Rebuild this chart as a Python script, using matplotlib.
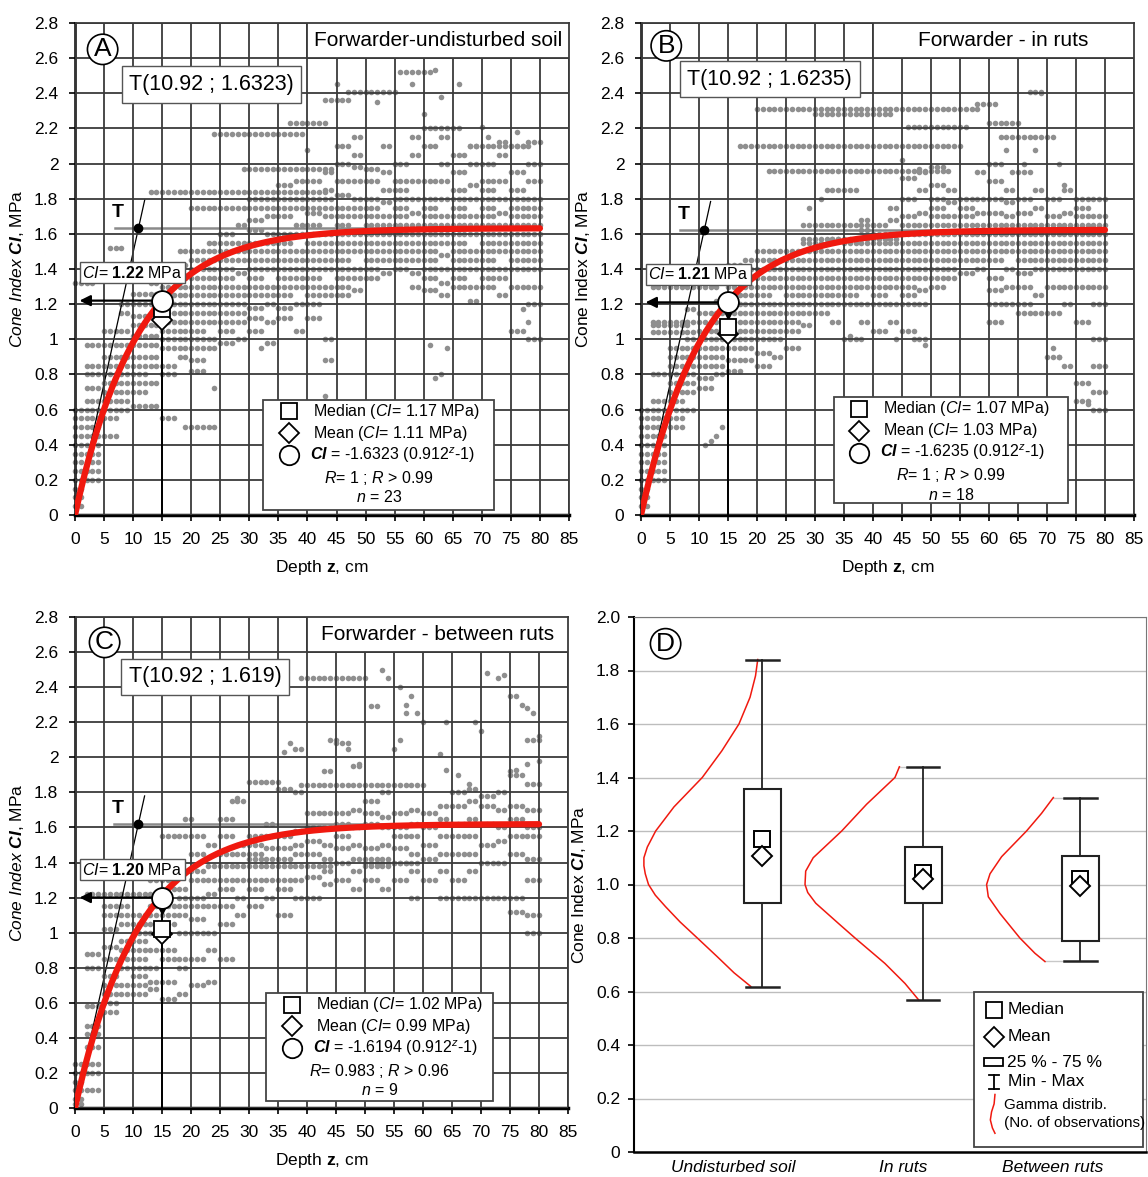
import numpy as np
import matplotlib.pyplot as plt
from matplotlib.patches import Rectangle

plt.rcParams['font.family'] = ['Liberation Sans', 'DejaVu Sans']
plt.rcParams['mathtext.fontset'] = 'custom'
plt.rcParams['mathtext.rm'] = 'Liberation Sans'
plt.rcParams['mathtext.it'] = 'Liberation Sans:italic'
plt.rcParams['mathtext.bf'] = 'Liberation Sans:bold'
plt.rcParams['mathtext.bfit'] = 'Liberation Sans:bold:italic'

# ---- panel A-C parameters ----
letters = ["A", "B", "C"]
titles = ["Forwarder-undisturbed soil", "Forwarder - in ruts", "Forwarder - between ruts"]
ci_max = [1.6323, 1.6235, 1.6194]
t_labels = ["T(10.92 ; 1.6323)", "T(10.92 ; 1.6235)", "T(10.92 ; 1.619)"]
t_z = 10.92
ci_15 = [1.22, 1.21, 1.20]
median_15 = [1.17, 1.07, 1.02]
mean_15 = [1.11, 1.03, 0.99]
r_values = ["1", "1", "0.983"]
r_crit = ["0.99", "0.99", "0.96"]
n_obs = [23, 18, 9]

# scatter: blocks (z from, z to, CI values at each depth), rows (CI, z from, z to), single points
blocks_A = [
    (0, 1, "0.05 0.1 0.15 0.2 0.25 0.3 0.35 0.4 0.45 0.5 0.55 0.6"),
    (2, 4, "0.2 0.25 0.3 0.35 0.4 0.45 0.5 0.55 0.6 0.65 0.72 0.8 0.85 0.97"),
    (5, 7, "0.45 0.55 0.6 0.65 0.7 0.75 0.8 0.85 0.9 0.97 1.05"),
    (8, 9, "0.6 0.65 0.7 0.75 0.8 0.85 0.9 0.97 1.05 1.15 1.2"),
    (10, 12, "0.62 0.7 0.75 0.8 0.85 0.9 0.97 1.02 1.08 1.13 1.2 1.26"),
    (13, 14, "0.62 0.75 0.85 0.9 0.97 1.02 1.08 1.13 1.2 1.26 1.32"),
    (15, 17, "0.55 0.8 0.85 0.95 1.0 1.05 1.1 1.15 1.2 1.25 1.3 1.35 1.4"),
    (18, 19, "0.9 0.95 1.0 1.05 1.1 1.15 1.2 1.25 1.3 1.35 1.42 1.5"),
    (20, 22, "0.82 0.88 0.95 1.0 1.05 1.1 1.15 1.2 1.25 1.3 1.35 1.4 1.45 1.5"),
    (23, 24, "0.95 1.0 1.1 1.15 1.2 1.25 1.3 1.35 1.4 1.45 1.5 1.55"),
    (25, 27, "0.98 1.05 1.1 1.15 1.2 1.25 1.3 1.35 1.4 1.45 1.5 1.55 1.6"),
    (28, 29, "1.0 1.1 1.15 1.2 1.25 1.3 1.38 1.45 1.5 1.55 1.65"),
    (30, 32, "1.05 1.12 1.18 1.25 1.3 1.35 1.4 1.45 1.5 1.55 1.62 1.68 1.8"),
    (33, 34, "0.98 1.1 1.2 1.25 1.3 1.4 1.45 1.5 1.55 1.6 1.7 1.8"),
    (35, 37, "1.12 1.18 1.25 1.3 1.35 1.4 1.45 1.5 1.55 1.6 1.7 1.8 1.88"),
    (38, 39, "1.05 1.2 1.3 1.35 1.4 1.45 1.5 1.6 1.65 1.8 1.9"),
    (40, 42, "1.12 1.2 1.25 1.3 1.35 1.4 1.45 1.5 1.55 1.6 1.65 1.72 1.8 1.9"),
    (43, 44, "0.88 1.0 1.25 1.3 1.4 1.45 1.5 1.55 1.6 1.7 1.8 1.85 1.95"),
    (45, 47, "1.25 1.3 1.35 1.4 1.45 1.5 1.55 1.6 1.65 1.7 1.75 1.82 1.9 2.0 2.1"),
    (48, 49, "1.28 1.35 1.4 1.5 1.55 1.6 1.7 1.75 1.8 1.9 1.98 2.05 2.15"),
    (50, 52, "1.35 1.4 1.45 1.5 1.55 1.6 1.65 1.7 1.75 1.8 1.9 1.97"),
    (53, 54, "1.38 1.45 1.5 1.55 1.6 1.65 1.7 1.78 1.85 1.95 2.1"),
    (55, 57, "1.4 1.45 1.5 1.55 1.6 1.65 1.7 1.75 1.8 1.85 1.9 2.0"),
    (58, 59, "1.3 1.38 1.45 1.5 1.55 1.6 1.65 1.72 1.8 1.9 2.05 2.15"),
    (60, 62, "1.28 1.35 1.4 1.45 1.5 1.55 1.6 1.65 1.7 1.75 1.8 1.9 2.1"),
    (63, 64, "1.25 1.32 1.4 1.48 1.55 1.6 1.65 1.7 1.8 1.9 2.0 2.15"),
    (65, 67, "1.3 1.35 1.4 1.45 1.5 1.55 1.6 1.65 1.7 1.75 1.8 1.85 1.95 2.05"),
    (68, 69, "1.22 1.3 1.4 1.45 1.5 1.6 1.65 1.7 1.8 1.88 2.0 2.1"),
    (70, 72, "1.3 1.35 1.4 1.45 1.5 1.55 1.6 1.65 1.7 1.75 1.8 1.85 1.9 2.0"),
    (73, 74, "1.25 1.35 1.4 1.5 1.55 1.6 1.65 1.72 1.8 1.9 2.05 2.12"),
    (75, 77, "1.05 1.3 1.4 1.45 1.5 1.55 1.6 1.65 1.7 1.75 1.8 1.85 1.95 2.1"),
    (78, 80, "1.0 1.2 1.3 1.4 1.45 1.5 1.55 1.6 1.65 1.7 1.75 1.8 1.9 2.0 2.12"),
]
rows_A = [(1.84, 13, 43), (2.17, 24, 39), (1.75, 20, 44), (1.97, 29, 44), (1.32, 0, 3),
          (0.5, 19, 24), (2.41, 47, 55), (2.23, 37, 43), (2.36, 43, 47), (2.52, 56, 61),
          (1.52, 6, 8), (2.2, 60, 66), (2.1, 68, 78)]
pts_A = [(32, 0.95), (24, 0.72), (43, 0.68), (61, 0.97), (64, 0.95), (62, 0.78), (63, 0.8),
         (77, 1.17), (78, 1.1), (40, 2.08), (60, 2.28), (66, 2.45), (58, 2.45), (70, 2.21),
         (63, 2.38), (62, 2.53), (52, 2.35), (45, 2.45), (71, 2.15), (76, 2.18)]

blocks_B = [
    (0, 1, "0.05 0.1 0.15 0.2 0.25 0.3 0.35 0.4 0.45 0.5 0.55 0.6"),
    (2, 4, "0.2 0.25 0.3 0.35 0.4 0.45 0.5 0.55 0.6 0.65 0.8 1.04"),
    (5, 7, "0.5 0.55 0.6 0.65 0.7 0.75 0.8 0.85 0.9 0.95 1.04"),
    (8, 9, "0.6 0.7 0.75 0.8 0.85 0.9 0.95 1.0 1.04 1.1 1.17"),
    (10, 12, "0.72 0.78 0.85 0.9 0.95 1.0 1.05 1.1 1.15"),
    (13, 14, "0.8 0.85 0.9 0.95 1.0 1.05 1.1 1.15 1.22"),
    (15, 17, "0.82 0.88 0.95 1.0 1.05 1.1 1.15 1.2 1.25 1.3 1.35 1.42"),
    (18, 19, "0.88 0.95 1.0 1.05 1.1 1.15 1.2 1.25 1.3 1.35 1.4 1.45"),
    (20, 22, "0.85 0.92 1.0 1.05 1.1 1.15 1.2 1.25 1.3 1.35 1.4 1.45 1.5"),
    (23, 24, "0.9 1.0 1.05 1.1 1.15 1.2 1.3 1.35 1.4 1.45 1.5"),
    (25, 27, "0.95 1.05 1.1 1.15 1.2 1.25 1.3 1.35 1.4 1.45 1.5"),
    (28, 29, "1.08 1.15 1.2 1.25 1.3 1.35 1.4 1.45 1.5 1.55"),
    (30, 32, "1.15 1.2 1.25 1.3 1.35 1.4 1.45 1.5 1.55"),
    (33, 34, "1.1 1.2 1.25 1.3 1.35 1.4 1.45 1.5 1.57"),
    (35, 37, "1.0 1.2 1.25 1.3 1.35 1.4 1.45 1.5 1.55"),
    (38, 39, "1.1 1.2 1.3 1.35 1.4 1.45 1.5 1.55 1.62 1.68"),
    (40, 42, "1.05 1.2 1.25 1.3 1.35 1.4 1.45 1.5 1.55 1.6 1.65"),
    (43, 44, "1.1 1.2 1.3 1.35 1.4 1.45 1.5 1.55 1.6 1.68 1.75"),
    (45, 47, "1.05 1.2 1.25 1.3 1.35 1.4 1.45 1.5 1.55 1.6 1.65 1.7 1.8 1.92"),
    (48, 49, "1.0 1.2 1.28 1.35 1.4 1.45 1.5 1.55 1.6 1.65 1.72 1.85 1.95"),
    (50, 52, "1.3 1.35 1.4 1.45 1.5 1.55 1.6 1.65 1.7 1.75 1.8 1.88 1.98"),
    (53, 54, "1.35 1.4 1.45 1.5 1.55 1.6 1.65 1.7 1.78 1.85"),
    (55, 57, "1.38 1.45 1.5 1.55 1.6 1.65 1.7 1.75 1.8"),
    (58, 59, "1.4 1.45 1.5 1.55 1.6 1.65 1.72 1.8 1.95"),
    (60, 62, "1.1 1.2 1.28 1.35 1.45 1.5 1.55 1.6 1.65 1.72 1.8 1.9 2.0"),
    (63, 64, "1.2 1.3 1.4 1.5 1.55 1.6 1.65 1.7 1.78 1.85"),
    (65, 67, "1.15 1.2 1.3 1.38 1.45 1.5 1.55 1.6 1.65 1.72 1.8 1.95"),
    (68, 69, "1.15 1.25 1.4 1.45 1.5 1.55 1.6 1.65 1.75 1.85"),
    (70, 72, "0.9 1.15 1.3 1.4 1.45 1.5 1.55 1.6 1.65 1.7 1.8"),
    (73, 74, "0.85 1.2 1.3 1.4 1.45 1.5 1.55 1.6 1.65 1.72 1.85"),
    (75, 77, "0.65 0.75 1.1 1.3 1.4 1.45 1.5 1.55 1.6 1.65 1.7 1.75 1.8"),
    (78, 80, "0.6 0.7 0.85 1.0 1.2 1.3 1.4 1.45 1.5 1.55 1.6 1.65 1.7 1.8"),
]
rows_B = [(2.31, 20, 58), (2.28, 30, 43), (2.21, 46, 56), (2.10, 17, 55), (1.96, 22, 53),
          (1.85, 32, 37), (1.65, 28, 40), (1.57, 28, 44), (2.15, 62, 71), (2.34, 58, 61),
          (2.23, 60, 65), (2.41, 67, 69), (1.3, 2, 13), (1.08, 2, 8), (1.1, 2, 8)]
pts_B = [(31, 1.8), (29, 1.75), (45, 2.02), (48, 1.97), (63, 2.08), (66, 2.0), (68, 2.08),
         (72, 2.0), (73, 1.88), (41, 1.05), (44, 1.0), (47, 1.0), (49, 0.97), (38, 1.0),
         (36, 1.02), (12, 0.42), (13, 0.45), (14, 0.5), (11, 0.4), (71, 0.95), (72, 0.9),
         (77, 0.63), (79, 0.85), (60, 1.1), (64, 1.95), (69, 2.4)]

blocks_C = [
    (0, 1, "0.02 0.05 0.1 0.15 0.2 0.25"),
    (2, 4, "0.1 0.2 0.25 0.35 0.42 0.47 0.58 0.8 0.88"),
    (5, 7, "0.55 0.6 0.65 0.7 0.75 0.85 0.92 1.02 1.1 1.15"),
    (8, 9, "0.65 0.7 0.8 0.85 0.9 0.95 1.05 1.1 1.15"),
    (10, 12, "0.65 0.7 0.75 0.8 0.85 0.9 0.95 1.0 1.05 1.1"),
    (13, 14, "0.68 0.72 0.8 0.9 1.0 1.05 1.1 1.15 1.3"),
    (15, 17, "0.62 0.72 0.85 0.9 1.05 1.1 1.15 1.25 1.3 1.55"),
    (18, 19, "0.65 0.8 0.85 1.0 1.1 1.15 1.2 1.25 1.35 1.55"),
    (20, 22, "0.7 0.85 1.0 1.08 1.15 1.2 1.3 1.35 1.45 1.55"),
    (23, 24, "0.72 0.9 1.0 1.15 1.22 1.3 1.5"),
    (25, 27, "0.85 1.05 1.15 1.25 1.3 1.45 1.55 1.65"),
    (28, 29, "1.1 1.2 1.3 1.45 1.5 1.75"),
    (30, 32, "1.15 1.25 1.3 1.42 1.45 1.5 1.55"),
    (33, 34, "1.2 1.3 1.42 1.48 1.55 1.62"),
    (35, 37, "1.1 1.25 1.3 1.42 1.48 1.55 1.82"),
    (38, 39, "1.2 1.3 1.45 1.5 1.58 1.8 2.05"),
    (40, 42, "1.2 1.32 1.45 1.52 1.6 1.68"),
    (43, 44, "1.28 1.35 1.42 1.5 1.6 1.68 1.92"),
    (45, 47, "1.3 1.4 1.48 1.55 1.62 1.68 2.08"),
    (48, 49, "1.25 1.35 1.42 1.5 1.6 1.7 1.95"),
    (50, 52, "1.3 1.38 1.42 1.48 1.62 1.68 1.75"),
    (53, 54, "1.25 1.38 1.42 1.5 1.6 1.66 1.8"),
    (55, 57, "1.3 1.4 1.48 1.55 1.6 1.68"),
    (58, 59, "1.2 1.35 1.45 1.55 1.62 1.7"),
    (60, 62, "1.3 1.42 1.5 1.6 1.68"),
    (63, 64, "1.35 1.45 1.55 1.65 1.72"),
    (65, 67, "1.3 1.45 1.55 1.62 1.72 1.8"),
    (68, 69, "1.35 1.45 1.55 1.65 1.75 1.82"),
    (70, 72, "1.4 1.5 1.62 1.72 1.78"),
    (73, 74, "1.4 1.52 1.6 1.7 1.8"),
    (75, 77, "1.12 1.45 1.55 1.65 1.72 1.9"),
    (78, 80, "1.0 1.1 1.3 1.42 1.55 1.6 1.7 1.85 2.1"),
]
rows_C = [(2.45, 39, 50), (1.86, 30, 35), (1.84, 39, 60), (1.22, 2, 14), (1.2, 63, 77),
          (1.38, 23, 44), (1.4, 50, 59)]
pts_C = [(53, 2.5), (54, 2.45), (56, 2.4), (51, 2.29), (52, 2.29), (57, 2.3), (58, 2.35),
         (57, 2.25), (59, 2.25), (60, 2.2), (64, 2.2), (69, 2.2), (70, 2.15), (71, 2.48),
         (73, 2.45), (74, 2.47), (75, 2.35), (76, 2.35), (77, 2.3), (78, 2.28), (79, 2.25),
         (80, 2.12), (37, 2.08), (36, 2.03), (44, 2.1), (45, 2.1), (47, 2.05), (49, 1.96),
         (55, 2.05), (56, 2.1), (63, 2.02), (64, 1.93), (75, 1.92), (76, 1.93), (78, 1.96),
         (80, 1.98), (68, 1.85), (66, 1.9), (19, 1.65), (20, 1.65), (27, 1.75), (28, 1.77)]

blocks = [blocks_A, blocks_B, blocks_C]
rows = [rows_A, rows_B, rows_C]
pts = [pts_A, pts_B, pts_C]

# ---- panel D data ----
d_cats = ["Undisturbed soil", "In ruts", "Between ruts"]
d_pos = [0.752, 1.695, 2.615]
d_label_pos = [0.58, 1.576, 2.455]
d_min = [0.617, 0.567, 0.714]
d_q1 = [0.93, 0.93, 0.79]
d_q3 = [1.357, 1.14, 1.106]
d_max = [1.838, 1.44, 1.323]
d_median = [1.17, 1.044, 1.02]
d_mean = [1.106, 1.02, 0.996]
gamma_ci = [
    [0.619, 0.67, 0.73, 0.8, 0.86, 0.917, 0.96, 1.0, 1.04, 1.07, 1.10, 1.14, 1.2, 1.29, 1.4,
     1.5, 1.6, 1.7, 1.78, 1.841],
    [0.567, 0.63, 0.705, 0.8, 0.855, 0.93, 0.97, 1.0, 1.05, 1.10, 1.2, 1.3, 1.4, 1.44],
    [0.712, 0.743, 0.8, 0.892, 0.954, 1.0, 1.04, 1.104, 1.2, 1.266, 1.325],
]
gamma_x = [
    [0.684, 0.586, 0.488, 0.371, 0.27, 0.185, 0.125, 0.085, 0.066, 0.058, 0.058, 0.078, 0.127,
     0.234, 0.400, 0.515, 0.615, 0.68, 0.712, 0.725],
    [1.670, 1.588, 1.470, 1.295, 1.197, 1.065, 1.018, 1.002, 1.006, 1.050, 1.217, 1.363,
     1.529, 1.555],
    [2.408, 2.349, 2.261, 2.144, 2.076, 2.066, 2.086, 2.154, 2.300, 2.388, 2.457],
]

W, H = 1148, 1177
fig = plt.figure(figsize=(W / 100, H / 100), dpi=100)


def rect(l, r, t, b):
    return [l / W, 1 - b / H, (r - l) / W, (b - t) / H]


gray = "#8f8f8f"
gridc = "#3a3a3a"
red = "#f0190f"

frames = [rect(75, 569, 23, 515), rect(641, 1134, 23, 515), rect(75, 568, 617, 1108)]
letter_xy = [(4.75, 2.65), (4.35, 2.67), (5.1, 2.655)]
t_box_xy = [(9.3, 2.45), (8.0, 2.48), (9.3, 2.46)]
leg_box = [(32.4, 72.1, 0.03, 0.655), (33.2, 73.6, 0.07, 0.67), (33.0, 72.0, 0.04, 0.655)]
italic_ylabel = [True, False, True]

for k in range(3):
    ax = fig.add_axes(frames[k])
    ax.set_xlim(0, 85)
    ax.set_ylim(0, 2.8)
    ax.set_xticks(np.arange(0, 86, 5))
    ax.set_yticks(np.round(np.arange(0, 2.81, 0.2), 1))
    ax.set_yticklabels(["{:g}".format(v) for v in np.round(np.arange(0, 2.81, 0.2), 1)])
    ax.tick_params(labelsize=12.5, length=4, width=1.2, direction="out", pad=8)
    ax.grid(True, color=gridc, lw=1.3, zorder=1.5)
    ax.set_axisbelow(False)
    for s in ["top", "right"]:
        ax.spines[s].set_color(gridc)
        ax.spines[s].set_linewidth(1.3)
    ax.spines["bottom"].set_linewidth(2.5)
    ax.spines["left"].set_linewidth(1.8)

    # scatter
    zs, cs = [], []
    for z0, z1, vals in blocks[k]:
        for z in range(z0, z1 + 1):
            for v in vals.split():
                zs.append(z)
                cs.append(float(v))
    for c, z0, z1 in rows[k]:
        for z in range(z0, z1 + 1):
            zs.append(z)
            cs.append(c)
    for z, c in pts[k]:
        zs.append(z)
        cs.append(c)
    ax.scatter(zs, cs, s=16, color=gray, lw=0, zorder=1, clip_on=False)

    # fitted curve
    a = ci_max[k]
    zz = np.linspace(0, 80, 300)
    ax.plot(zz, a * (1 - 0.912 ** zz), color=red, lw=4.5, zorder=3, solid_capstyle="round")

    # asymptote and tangent at T
    ax.plot([6.8, 80], [a, a], color="#8a8a8a", lw=1.8, zorder=2)
    ax.plot([0, 12.0], [0, a * 12.0 / t_z], color="black", lw=0.9, zorder=2.5)
    ax.plot([t_z], [a], "o", color="black", ms=6, zorder=4)
    ax.text(7.3, a + 0.04, "T", fontsize=14, fontweight="bold", ha="center", va="bottom", zorder=4)

    # guide lines at z = 15
    c15 = ci_15[k]
    ax.plot([15, 15], [0, c15], color="black", lw=1.4, zorder=2.6)
    ax.annotate("", xy=(0.3, c15), xytext=(15, c15), zorder=4,
                arrowprops=dict(arrowstyle="-|>", color="black", lw=1.6, mutation_scale=16))
    if k > 0:
        ax.plot([15], [c15 - 0.07], marker="v", color="black", ms=6, zorder=4)
    ax.plot([15], [mean_15[k]], marker="D", ms=10, mfc="white", mec="black", mew=1.3, zorder=5)
    ax.plot([15], [median_15[k]], marker="s", ms=12, mfc="white", mec="black", mew=1.3, zorder=5.5)
    ax.plot([15], [c15], marker="o", ms=15, mfc="white", mec="black", mew=1.3, zorder=6)
    ax.text(1.2, c15 + 0.16, r"$\mathit{CI}$= $\mathbf{%.2f}$ MPa" % c15, fontsize=11.5,
            va="center", ha="left", zorder=7,
            bbox=dict(boxstyle="square,pad=0.15", fc="white", ec="#555555", lw=1))

    # title box
    ax.add_patch(Rectangle((40, 2.6), 45, 0.2, fc="white", ec=gridc, lw=1.3, zorder=4))
    ax.text(62.5, 2.7, titles[k], fontsize=15, ha="center", va="center", zorder=5)
    ax.text(*letter_xy[k], letters[k], fontsize=19, ha="center", va="center", zorder=6,
            bbox=dict(boxstyle="circle,pad=0.12", fc="white", ec="black", lw=1.2))
    ax.text(*t_box_xy[k], t_labels[k], fontsize=15.5, ha="left", va="center", zorder=6,
            bbox=dict(boxstyle="square,pad=0.35", fc="white", ec="#555555", lw=1))

    # legend box
    x0, x1, y0, y1 = leg_box[k]
    ax.add_patch(Rectangle((x0, y0), x1 - x0, y1 - y0, fc="white", ec="#444444", lw=1.3, zorder=6))
    ym = [y1 - 0.065, y1 - 0.19, y1 - 0.315, y1 - 0.445, y1 - 0.555]
    mx = x0 + 4.4
    tx = x0 + 8.6
    ax.plot([mx], [ym[0]], marker="s", ms=12, mfc="white", mec="black", mew=1.3, zorder=7)
    ax.plot([mx], [ym[1]], marker="D", ms=10, mfc="white", mec="black", mew=1.3, zorder=7)
    ax.plot([mx], [ym[2]], marker="o", ms=14, mfc="white", mec="black", mew=1.3, zorder=7)
    ax.text(tx, ym[0], r"Median ($\mathit{CI}$= %.2f MPa)" % median_15[k], fontsize=11.5, va="center", zorder=7)
    ax.text(tx, ym[1], r"Mean ($\mathit{CI}$= %.2f MPa)" % mean_15[k], fontsize=11.5, va="center", zorder=7)
    ax.text(tx - 0.6, ym[2], r"$\mathbfit{CI}$ = -%.4f (0.912$^{z}$-1)" % a, fontsize=11.5, va="center", zorder=7)
    ax.text((x0 + x1) / 2, ym[3], r"$\mathit{R}$= %s ; $\mathit{R}$ > %s" % (r_values[k], r_crit[k]),
            fontsize=11.5, ha="center", va="center", zorder=7)
    ax.text((x0 + x1) / 2, ym[4], r"$\mathit{n}$ = %d" % n_obs[k], fontsize=11.5, ha="center", va="center", zorder=7)

    ax.set_xlabel(r"Depth $\mathbf{z}$, cm", fontsize=12.5, labelpad=8)
    if italic_ylabel[k]:
        ax.set_ylabel(r"$\mathit{Cone\ Index}\ \mathbfit{CI}$, MPa", fontsize=12.5, labelpad=6)
    else:
        ax.set_ylabel(r"Cone Index $\mathbfit{CI}$, MPa", fontsize=12.5, labelpad=6)

# ---- panel D ----
ax = fig.add_axes(rect(634, 1146, 617, 1152))
ax.set_xlim(0, 3)
ax.set_ylim(0, 2.0)
yt = np.round(np.arange(0, 2.01, 0.2), 1)
ax.set_yticks(yt)
ax.set_yticklabels(["0"] + ["%.1f" % v for v in yt[1:]])
ax.set_xticks(d_label_pos)
ax.set_xticklabels(d_cats, fontsize=12.5, style="italic")
ax.tick_params(axis="x", length=0, pad=6)
ax.tick_params(axis="y", labelsize=12.5, length=4, width=1.2, pad=6)
ax.grid(True, axis="y", color="#bdbdbd", lw=1.0, zorder=0)
ax.set_axisbelow(True)
for s in ["top", "right"]:
    ax.spines[s].set_color("#777777")
ax.spines["bottom"].set_linewidth(1.8)
ax.spines["left"].set_linewidth(1.5)

bw = 0.22
cw = 0.19
for i in range(3):
    p = d_pos[i]
    ax.plot(gamma_x[i], gamma_ci[i], color=red, lw=1.1, zorder=2)
    # light connector from the end of the gamma curve to the caps
    ax.plot([gamma_x[i][0], p - cw / 2], [d_min[i]] * 2, color="#c8c8c8", lw=1.0, zorder=1.8)
    ax.plot([gamma_x[i][-1], p - cw / 2], [d_max[i]] * 2, color="#c8c8c8", lw=1.0, zorder=1.8)
    ax.add_patch(Rectangle((p - bw / 2, d_q1[i]), bw, d_q3[i] - d_q1[i], fc="white", ec="#222222",
                           lw=1.5, zorder=3))
    ax.plot([p, p], [d_q3[i], d_max[i]], color="#222222", lw=1.3, zorder=3)
    ax.plot([p, p], [d_min[i], d_q1[i]], color="#222222", lw=1.3, zorder=3)
    ax.plot([p - cw / 2, p + cw / 2], [d_max[i]] * 2, color="#222222", lw=1.8, zorder=3)
    ax.plot([p - cw / 2, p + cw / 2], [d_min[i]] * 2, color="#222222", lw=1.8, zorder=3)
    ax.plot([p], [d_median[i]], marker="s", ms=12, mfc="white", mec="black", mew=1.4, zorder=4)
    ax.plot([p], [d_mean[i]], marker="D", ms=10, mfc="white", mec="black", mew=1.4, zorder=5)

ax.text(0.185, 1.9, "D", fontsize=19, ha="center", va="center", zorder=6,
        bbox=dict(boxstyle="circle,pad=0.12", fc="white", ec="black", lw=1.2))
ax.set_ylabel(r"Cone Index $\mathbfit{CI}$, MPa", fontsize=12.5, labelpad=6)

# legend of panel D
ax.add_patch(Rectangle((1.99, 0.019), 0.99, 0.579, fc="white", ec="#444444", lw=1.3, zorder=6))
lx = 2.11
ltx = 2.19
ax.plot([lx], [0.531], marker="s", ms=12, mfc="white", mec="black", mew=1.3, zorder=7)
ax.text(ltx, 0.531, "Median", fontsize=12.5, va="center", zorder=7)
ax.plot([lx], [0.43], marker="D", ms=10, mfc="white", mec="black", mew=1.3, zorder=7)
ax.text(ltx, 0.43, "Mean", fontsize=12.5, va="center", zorder=7)
ax.add_patch(Rectangle((2.05, 0.322), 0.11, 0.03, fc="white", ec="black", lw=1.3, zorder=7))
ax.text(ltx - 0.005, 0.336, "25 % - 75 %", fontsize=12.5, va="center", zorder=7)
ax.plot([lx, lx], [0.237, 0.287], color="black", lw=1.3, zorder=7)
ax.plot([lx - 0.03, lx + 0.03], [0.287, 0.287], color="black", lw=1.3, zorder=7)
ax.plot([lx - 0.03, lx + 0.03], [0.237, 0.237], color="black", lw=1.3, zorder=7)
ax.text(ltx, 0.262, "Min - Max", fontsize=12.5, va="center", zorder=7)
ax.plot([2.115, 2.11, 2.095, 2.088, 2.1, 2.115], [0.215, 0.18, 0.15, 0.12, 0.09, 0.07],
        color=red, lw=1.1, zorder=7)
ax.text(ltx - 0.02, 0.176, "Gamma distrib.", fontsize=11, va="center", zorder=7)
ax.text(ltx - 0.02, 0.108, "(No. of observations)", fontsize=11, va="center", zorder=7)

fig.savefig("out.png", dpi=100)
